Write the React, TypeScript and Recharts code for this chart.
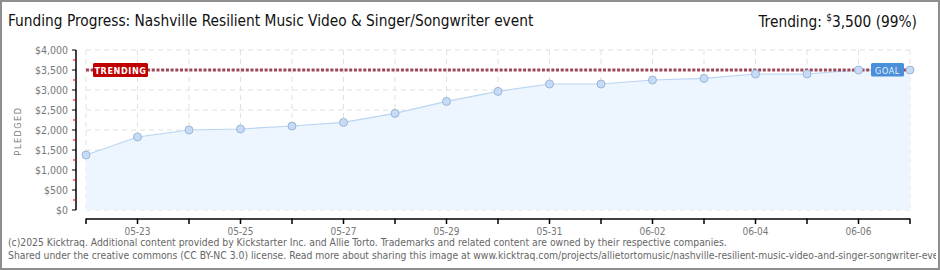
import React from 'react';
import { AreaChart, Area, XAxis, YAxis, CartesianGrid, ReferenceLine } from 'recharts';

const days = ['05-22', '05-23', '05-24', '05-25', '05-26', '05-27', '05-28', '05-29', '05-30', '05-31', '06-01', '06-02', '06-03', '06-04', '06-05', '06-06', '06-07'];
const pledged = [1375, 1825, 2000, 2025, 2100, 2190, 2415, 2715, 2965, 3150, 3150, 3250, 3290, 3400, 3400, 3500, 3500];
const goal = 3500;

const data = days.map((d, i) => ({ day: d, pledged: pledged[i] }));

const pixelFont = '"DejaVu Sans Condensed", "DejaVu Sans", sans-serif';

const money = (v: number) => '$' + v.toLocaleString('en-US');

function YTick(props: any) {
  const { x, y, payload } = props;
  const major = payload.value % 500 === 0;
  if (!major) {
    return <line x1={x - 3} x2={x} y1={y} y2={y} stroke="#e00000" strokeWidth={1} />;
  }
  return (
    <g>
      <line x1={x - 4} x2={x} y1={y} y2={y} stroke="#000" strokeWidth={1} />
      <text x={x - 8} y={y} dy={4} textAnchor="end" fontSize={10.5} fill="#777" fontFamily={pixelFont}>
        {money(payload.value)}
      </text>
    </g>
  );
}

function XTick(props: any) {
  const { x, y, payload, index } = props;
  return (
    <g>
      <line x1={x} x2={x} y1={y - 2.5} y2={y + 3} stroke="#000" strokeWidth={1.5} />
      {index % 2 === 1 && (
        <text x={x} y={y + 14} textAnchor="middle" fontSize={10} fill="#777" fontFamily={pixelFont}>
          {payload.value}
        </text>
      )}
    </g>
  );
}

const NoTick = () => <g />;

function GoalLabels(props: any) {
  const { x, y, width } = props.viewBox;
  return (
    <g>
      <rect x={x + 7} y={y - 7} width={55} height={14} rx={1.5} fill="#c00000" />
      <text x={x + 34.5} y={y + 3.5} textAnchor="middle" fontSize={9} fontWeight="bold" fill="#fff" fontFamily={pixelFont} letterSpacing={0.6}>
        TRENDING
      </text>
      <rect x={x + width - 39} y={y - 7} width={33} height={13.5} rx={1.5} fill="#4a8fd9" />
      <text x={x + width - 22.5} y={y + 3.5} textAnchor="middle" fontSize={9} fill="#e6f0fb" fontFamily={pixelFont} letterSpacing={0.6}>
        GOAL
      </text>
    </g>
  );
}

export default function App() {
  return (
    <div style={{ position: 'absolute', left: 0, top: 0, width: 940, height: 270, background: '#fff', fontFamily: pixelFont }}>
      <AreaChart width={940} height={270} data={data} margin={{ top: 50, right: 30, bottom: 30, left: 26 }}>
        <CartesianGrid stroke="#e0e0e0" strokeDasharray="5 4" />
        <XAxis xAxisId={0} dataKey="day" height={9} tick={<NoTick />} axisLine={false} tickLine={false} interval={0} />
        <XAxis xAxisId="lbl" dataKey="day" height={21} interval={0} tickLine={false} tickSize={0} tick={<XTick />} axisLine={{ stroke: '#000', strokeWidth: 1.5 }} />
        <YAxis yAxisId={0} width={10} type="number" domain={[0, 4000]} tickCount={9} interval={0} tick={<NoTick />} axisLine={false} tickLine={false} />
        <YAxis yAxisId="lbl" width={50} type="number" dataKey="pledged" domain={[0, 4000]} tickCount={17} interval={0} tickLine={false} tickSize={0} tickMargin={0} tick={<YTick />} axisLine={{ stroke: '#000', strokeWidth: 1.5 }} />
        <Area
          type="linear"
          dataKey="pledged"
          stroke="#b9d5f2"
          strokeWidth={1.2}
          fill="#edf5fe"
          fillOpacity={1}
          dot={{ r: 4, fill: '#c6dcf6', stroke: '#9cb6d6', strokeWidth: 1, fillOpacity: 1 }}
          isAnimationActive={false}
        />
        <ReferenceLine y={goal} stroke="#9c4658" strokeWidth={3} strokeDasharray="3 1.7" label={<GoalLabels />} />
      </AreaChart>

      <div style={{ position: 'absolute', left: 8, top: 12, fontSize: 15.3, color: '#111', whiteSpace: 'nowrap' }}>
        Funding Progress: Nashville Resilient Music Video &amp; Singer/Songwriter event
      </div>
      <div style={{ position: 'absolute', right: 23, top: 12, fontSize: 15.3, color: '#111', whiteSpace: 'nowrap' }}>
        Trending: <sup style={{ fontSize: 10 }}>$</sup>3,500 (99%)
      </div>
      <div style={{ position: 'absolute', left: 18, top: 131, transform: 'translate(-50%, -50%) rotate(-90deg)', fontSize: 9, color: '#777', letterSpacing: 1.5, whiteSpace: 'nowrap' }}>
        PLEDGED
      </div>
      <div style={{ position: 'absolute', left: 8, top: 236, fontSize: 10.3, lineHeight: '13px', color: '#666', whiteSpace: 'nowrap', overflow: 'hidden', width: 928 }}>
        (c)2025 Kicktraq. Additional content provided by Kickstarter Inc. and Allie Torto. Trademarks and related content are owned by their respective companies.
        <br />
        Shared under the creative commons (CC BY-NC 3.0) license. Read more about sharing this image at www.kicktraq.com/projects/allietortomusic/nashville-resilient-music-video-and-singer-songwriter-event/
      </div>
      <div style={{ position: 'absolute', left: 0, top: 0, width: 940, height: 270, boxSizing: 'border-box', border: '2px solid #8e8e8e', pointerEvents: 'none' }} />
    </div>
  );
}
